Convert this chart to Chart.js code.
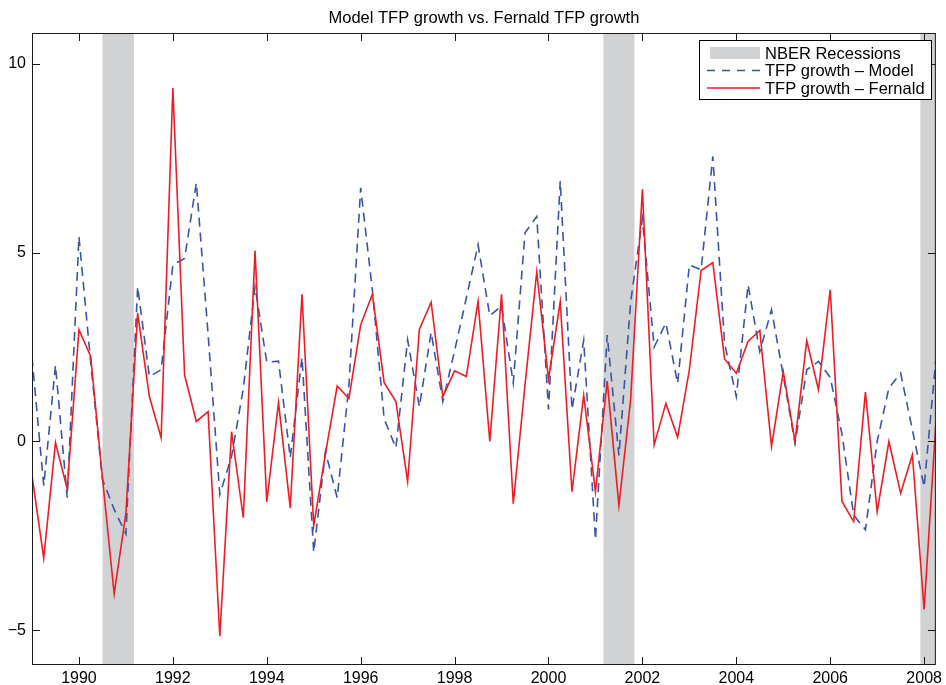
<!DOCTYPE html>
<html>
<head>
  <title>Model TFP growth vs. Fernald TFP growth</title>
  <script src="https://cdn.jsdelivr.net/npm/chart.js"></script>
  <style>
    body { margin: 0; background: #fff; }
  </style>
</head>
<body>
  <canvas id="tfpChart" width="946" height="685"></canvas>

  <script>
    // quarterly dates, 1989Q1 .. 2008Q2
    const quarters = [
      1989.00, 1989.25, 1989.50, 1989.75, 1990.00, 1990.25, 1990.50, 1990.75,
      1991.00, 1991.25, 1991.50, 1991.75, 1992.00, 1992.25, 1992.50, 1992.75,
      1993.00, 1993.25, 1993.50, 1993.75, 1994.00, 1994.25, 1994.50, 1994.75,
      1995.00, 1995.25, 1995.50, 1995.75, 1996.00, 1996.25, 1996.50, 1996.75,
      1997.00, 1997.25, 1997.50, 1997.75, 1998.00, 1998.25, 1998.50, 1998.75,
      1999.00, 1999.25, 1999.50, 1999.75, 2000.00, 2000.25, 2000.50, 2000.75,
      2001.00, 2001.25, 2001.50, 2001.75, 2002.00, 2002.25, 2002.50, 2002.75,
      2003.00, 2003.25, 2003.50, 2003.75, 2004.00, 2004.25, 2004.50, 2004.75,
      2005.00, 2005.25, 2005.50, 2005.75, 2006.00, 2006.25, 2006.50, 2006.75,
      2007.00, 2007.25, 2007.50, 2007.75, 2008.00, 2008.25
    ];

    const modelTFP = [
      2.23, -1.17, 2.02, -1.49, 5.43, 2.1, -1.0, -1.8, -2.45, 4.1,
      1.72, 1.9, 4.68, 4.85, 6.85, 2.85, -1.4, -0.4, 1.4, 4.1,
      2.1, 2.13, -0.43, 2.23, -2.93, -0.27, -1.49, 1.5, 6.72, 4.0,
      0.6, -0.17, 2.69, 0.92, 2.89, 1.06, 2.4, 3.8, 5.21, 3.33,
      3.59, 1.55, 5.53, 5.96, 0.85, 6.9, 0.85, 2.68, -2.6, 2.82,
      -0.37, 3.7, 5.9, 2.5, 3.14, 1.54, 4.68, 4.55, 7.55, 2.6,
      1.19, 4.15, 2.38, 3.49, 1.75, -0.05, 1.9, 2.12, 1.7, 0.2,
      -1.95, -2.34, 0.0, 1.42, 1.81, 0.31, -1.2, 2.16
    ];

    const fernaldTFP = [
      -0.9, -3.09, -0.03, -1.26, 2.96, 2.25, -0.96, -4.04, -1.9, 3.4,
      1.19, 0.1, 9.36, 1.76, 0.53, 0.79, -5.16, 0.26, -2.02, 5.05,
      -1.6, 1.03, -1.76, 3.9, -2.23, -0.32, 1.47, 1.14, 3.09, 3.9,
      1.56, 1.06, -1.06, 2.97, 3.69, 1.19, 1.87, 1.72, 3.71, 0.0,
      3.9, -1.65, 1.5, 4.49, 1.65, 3.7, -1.33, 1.22, -1.33, 1.6,
      -1.7, 1.12, 6.68, -0.09, 1.01, 0.11, 1.9, 4.53, 4.74, 2.18,
      1.81, 2.65, 2.94, -0.13, 1.85, 0.0, 2.67, 1.37, 4.02, -1.59,
      -2.12, 1.31, -1.86, 0.0, -1.37, -0.35, -4.45, 0.48
    ];

    // NBER recessions (start, end)
    const recessionStart = [1990.5, 2001.17, 2007.92];
    const recessionEnd = [1991.17, 2001.83, 2008.25];

    const yearTicks = [1990, 1992, 1994, 1996, 1998, 2000, 2002, 2004, 2006, 2008];
    const valueTicks = [-5, 0, 5, 10];

    const chartTitle = 'Model TFP growth vs. Fernald TFP growth';
    const legendLabels = ['NBER Recessions', 'TFP growth \u2013 Model', 'TFP growth \u2013 Fernald'];

    const FONT = "'Liberation Sans', Arial, Helvetica, sans-serif";
    const BLUE = '#3a55a8';
    const RED = '#ee1d25';
    const GREY = '#d1d2d4';
    const DASH = [9, 6];

    const toPoints = vals => quarters.map((q, i) => ({ x: q, y: vals[i] }));

    // shading, box, inward ticks, title and legend (matlab look)
    const matlabFrame = {
      id: 'matlabFrame',
      beforeDatasetsDraw(chart) {
        const { ctx, chartArea: a, scales } = chart;
        ctx.save();
        ctx.fillStyle = GREY;
        recessionStart.forEach((s, i) => {
          const x1 = Math.max(scales.x.getPixelForValue(s), a.left);
          const x2 = Math.min(scales.x.getPixelForValue(recessionEnd[i]), a.right);
          ctx.fillRect(x1, a.top, x2 - x1, a.bottom - a.top);
        });
        ctx.restore();
      },
      afterDraw(chart) {
        const { ctx, chartArea: a, scales } = chart;
        ctx.save();
        ctx.strokeStyle = '#1a1a1a';
        ctx.lineWidth = 1;
        ctx.strokeRect(a.left + 0.5, a.top + 0.5, a.right - a.left - 1, a.bottom - a.top - 1);

        const len = 8;
        ctx.beginPath();
        yearTicks.forEach(v => {
          const x = Math.round(scales.x.getPixelForValue(v)) + 0.5;
          ctx.moveTo(x, a.bottom); ctx.lineTo(x, a.bottom - len);
          ctx.moveTo(x, a.top); ctx.lineTo(x, a.top + len);
        });
        valueTicks.forEach(v => {
          const y = Math.round(scales.y.getPixelForValue(v)) + 0.5;
          ctx.moveTo(a.left, y); ctx.lineTo(a.left + len, y);
          ctx.moveTo(a.right, y); ctx.lineTo(a.right - len, y);
        });
        ctx.stroke();

        // title
        ctx.fillStyle = '#000';
        ctx.font = '16.5px ' + FONT;
        ctx.textAlign = 'center';
        ctx.textBaseline = 'middle';
        ctx.fillText(chartTitle, (a.left + a.right) / 2, 18);

        // legend box
        const bx = 699.5, by = 40.5, bw = 232, bh = 59;
        ctx.fillStyle = '#fff';
        ctx.fillRect(bx, by, bw, bh);
        ctx.strokeStyle = '#000';
        ctx.strokeRect(bx, by, bw, bh);

        const rows = [53, 70.5, 88];
        ctx.fillStyle = GREY;
        ctx.fillRect(710, rows[0] - 6, 50, 12);

        ctx.lineWidth = 1.5;
        ctx.strokeStyle = BLUE;
        ctx.setLineDash([8, 7]);
        ctx.beginPath(); ctx.moveTo(707, rows[1]); ctx.lineTo(760, rows[1]); ctx.stroke();
        ctx.setLineDash([]);
        ctx.strokeStyle = RED;
        ctx.beginPath(); ctx.moveTo(707, rows[2]); ctx.lineTo(760, rows[2]); ctx.stroke();

        ctx.fillStyle = '#000';
        ctx.textAlign = 'left';
        legendLabels.forEach((t, i) => ctx.fillText(t, 765, rows[i] + 1));
        ctx.restore();
      }
    };

    const ctx = document.getElementById('tfpChart').getContext('2d');

    const tfpChart = new Chart(ctx, {
      type: 'line',
      data: {
        datasets: [
          {
            label: legendLabels[2],
            data: toPoints(fernaldTFP),
            borderColor: RED,
            borderWidth: 1.6,
            pointRadius: 0,
            tension: 0,
            fill: false,
            order: 0
          },
          {
            label: legendLabels[1],
            data: toPoints(modelTFP),
            borderColor: BLUE,
            borderWidth: 1.6,
            borderDash: DASH,
            pointRadius: 0,
            tension: 0,
            fill: false,
            order: 1
          }
        ]
      },
      options: {
        responsive: false,
        animation: false,
        devicePixelRatio: 1,
        layout: { padding: { top: 33, right: 6, left: 0, bottom: 0 } },
        plugins: {
          legend: { display: false },
          title: { display: false },
          tooltip: { enabled: false }
        },
        scales: {
          x: {
            type: 'linear',
            min: quarters[0],
            max: quarters[quarters.length - 1],
            grid: { display: false, drawTicks: false },
            border: { display: false },
            afterBuildTicks: scale => { scale.ticks = yearTicks.map(v => ({ value: v })); },
            afterFit: scale => { scale.height = 20; },
            ticks: {
              autoSkip: false,
              maxRotation: 0,
              padding: 4,
              color: '#000',
              font: { family: FONT, size: 16 },
              callback: v => String(v)
            }
          },
          y: {
            min: -5.92,
            max: 10.82,
            grid: { display: false, drawTicks: false },
            border: { display: false },
            afterBuildTicks: scale => { scale.ticks = valueTicks.map(v => ({ value: v })); },
            afterFit: scale => { scale.width = 32; },
            ticks: {
              padding: 6,
              color: '#000',
              font: { family: FONT, size: 16 },
              callback: v => (v < 0 ? '\u2212' + Math.abs(v) : String(v))
            }
          }
        }
      },
      plugins: [matlabFrame]
    });
  </script>
</body>
</html>
